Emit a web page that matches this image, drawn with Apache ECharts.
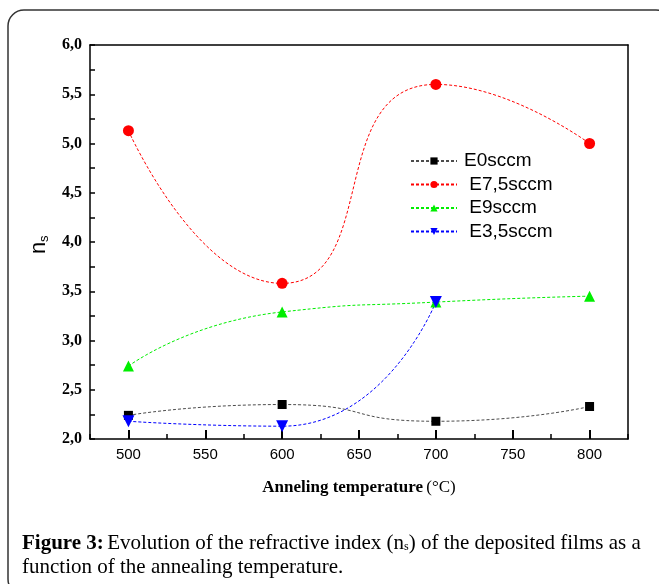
<!DOCTYPE html>
<html>
<head>
<meta charset="utf-8">
<script src="https://cdn.jsdelivr.net/npm/echarts@6/dist/echarts.min.js"></script>
<style>
html,body{margin:0;padding:0;background:#fff;}
#c{width:659px;height:584px;}
</style>
</head>
<body>
<div id="c"></div>
<script>
const temps = [500, 600, 700, 800];
const seriesNames = ['E0sccm', 'E7,5sccm', 'E9sccm', 'E3,5sccm'];
const legendLabels = ['E0sccm', ' E7,5sccm', ' E9sccm', ' E3,5sccm'];
const e0 = [2.24, 2.35, 2.18, 2.33];
const e75 = [5.13, 3.58, 5.60, 5.00];
const e9 = [2.74, 3.29, 3.39, 3.45];
const e35 = [2.18, 2.13, 3.39];
const xMajorTicks = [500, 550, 600, 650, 700, 750, 800];

const values = [e0, e75, e9, e35];
const colors = ['#000000', '#ff0000', '#00ee00', '#0000ff'];
const symbols = ['rect', 'circle', 'triangle', 'triangle'];
const symSizes = [9, 11, 11, 12];
const rotates = [0, 0, 0, 180];

const chart = echarts.init(document.getElementById('c'), null, {renderer: 'canvas'});

const series = seriesNames.map((name, i) => ({
  name: name,
  type: 'line',
  xAxisIndex: 0,
  yAxisIndex: 0,
  smooth: 0.6,
  data: values[i].map((v, j) => [temps[j], v]),
  symbol: symbols[i],
  symbolSize: symSizes[i],
  symbolRotate: rotates[i],
  showAllSymbol: true,
  itemStyle: {color: colors[i]},
  lineStyle: {color: colors[i], width: 1, type: [3, 2], opacity: i === 0 ? 0.7 : 1},
  z: 3
}));

const plainAxis = {
  splitLine: {show: false},
  axisTick: {show: false},
  axisLabel: {show: false},
  axisLine: {show: true, onZero: false, lineStyle: {color: '#000', width: 1.5}}
};

const option = {
  backgroundColor: '#ffffff',
  animation: false,
  grid: {left: 90, top: 45, width: 538, height: 394},
  legend: {
    orient: 'vertical',
    left: 405,
    top: 146,
    itemWidth: 46,
    itemHeight: 9,
    itemGap: 3.5,
    data: seriesNames,
    formatter: name => legendLabels[seriesNames.indexOf(name)],
    textStyle: {fontFamily: 'Liberation Sans, Arial, sans-serif', fontSize: 19, color: '#000', lineHeight: 20, padding: [0, 0, 0, 2]}
  },
  xAxis: [{
    type: 'value',
    min: 475,
    max: 825,
    position: 'bottom',
    splitLine: {show: false},
    axisLine: {show: true, onZero: false, lineStyle: {color: '#000', width: 1.5}},
    axisTick: {show: true, inside: true, length: 9, lineStyle: {color: '#000', width: 2}, customValues: xMajorTicks},
    axisLabel: {customValues: xMajorTicks, color: '#000', fontFamily: 'Liberation Sans, Arial, sans-serif', fontSize: 15, margin: 8},
    name: '{b|Anneling temperature} {r|(°C)}',
    nameLocation: 'middle',
    nameGap: 40,
    nameTextStyle: {
      rich: {
        b: {fontFamily: 'Liberation Serif, Times New Roman, serif', fontWeight: 'bold', fontSize: 17, color: '#000'},
        r: {fontFamily: 'Liberation Serif, Times New Roman, serif', fontSize: 17, color: '#000'}
      }
    }
  }, {
    type: 'value',
    min: 475,
    max: 825,
    interval: 25,
    position: 'bottom',
    splitLine: {show: false},
    axisLine: {show: false, onZero: false},
    axisTick: {show: true, inside: true, length: 5, lineStyle: {color: '#000', width: 1.5}},
    axisLabel: {show: false}
  }, Object.assign({type: 'value', min: 475, max: 825, position: 'top'}, plainAxis)],
  yAxis: [{
    type: 'value',
    min: 2,
    max: 6,
    interval: 0.5,
    splitLine: {show: false},
    axisLine: {show: true, onZero: false, lineStyle: {color: '#000', width: 1.5}},
    axisTick: {show: true, inside: true, length: 5, lineStyle: {color: '#000', width: 1.5}},
    minorTick: {show: true, splitNumber: 2, length: 5, lineStyle: {color: '#000', width: 1.5}},
    axisLabel: {
      color: '#000',
      fontFamily: 'Liberation Serif, Times New Roman, serif',
      fontWeight: 'bold',
      fontSize: 16,
      margin: 8,
      formatter: v => v.toFixed(1).replace('.', ',')
    }
  }, Object.assign({type: 'value', min: 2, max: 6, position: 'right'}, plainAxis)],
  graphic: [
    {
      type: 'rect',
      shape: {x: 8, y: 10, width: 664, height: 585, r: 16},
      style: {fill: null, stroke: '#333', lineWidth: 1.5},
      silent: true,
      z: -10
    },
    {
      type: 'group',
      x: 38,
      y: 242,
      rotation: Math.PI / 2,
      children: [
        {type: 'text', x: -12, y: -10, style: {text: 'n', font: '22px "Liberation Sans", Arial, sans-serif', fill: '#000', textVerticalAlign: 'top'}},
        {type: 'text', x: 0, y: 0, style: {text: 's', font: '13px "Liberation Sans", Arial, sans-serif', fill: '#000', textVerticalAlign: 'top'}}
      ]
    },
    {
      type: 'text',
      left: 22,
      top: 533,
      style: {
        text: '{b|Figure 3:} {r|Evolution of the refractive index (n}{s|s}{r|) of the deposited films as a}\n{r|function of the annealing temperature.}',
        rich: {
          b: {fontFamily: 'Liberation Serif, Times New Roman, serif', fontWeight: 'bold', fontSize: 21, color: '#111', lineHeight: 24},
          r: {fontFamily: 'Liberation Serif, Times New Roman, serif', fontSize: 21, color: '#111', lineHeight: 24},
          s: {fontFamily: 'Liberation Serif, Times New Roman, serif', fontSize: 12, color: '#111', lineHeight: 24, padding: [7, 0, 0, 0]}
        }
      }
    }
  ],
  series: series
};
chart.setOption(option);
</script>
</body>
</html>
